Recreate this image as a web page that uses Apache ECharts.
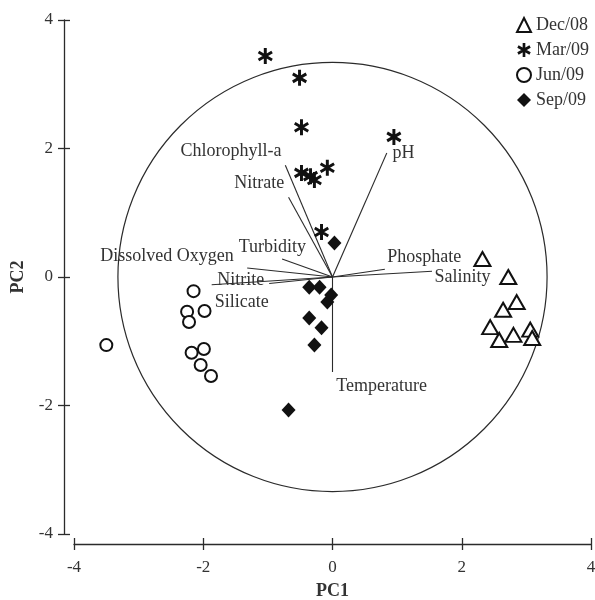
<!DOCTYPE html>
<html>
<head>
<meta charset="utf-8">
<script src="https://cdn.jsdelivr.net/npm/echarts@6/dist/echarts.min.js"></script>
<style>
html,body{margin:0;padding:0;background:#fff;}
#chart{width:595px;height:600px;}
</style>
</head>
<body>
<div id="chart"></div>
<script>
// ---- data ----
const seasons = ['Dec/08', 'Mar/09', 'Jun/09', 'Sep/09'];
const decPC1 = [2.32, 2.72, 2.85, 2.64, 2.44, 2.58, 2.80, 3.06, 3.09];
const decPC2 = [0.28, 0.00, -0.39, -0.51, -0.78, -0.98, -0.90, -0.82, -0.95];
const marPC1 = [-1.04, -0.51, -0.48, 0.95, -0.48, -0.34, -0.28, -0.08, -0.17];
const marPC2 = [3.44, 3.10, 2.33, 2.18, 1.62, 1.57, 1.51, 1.70, 0.70];
const junPC1 = [-2.15, -2.25, -1.98, -2.22, -2.18, -1.99, -2.04, -1.88, -3.50];
const junPC2 = [-0.22, -0.54, -0.53, -0.70, -1.18, -1.12, -1.37, -1.54, -1.06];
const sepPC1 = [-0.36, -0.20, -0.02, -0.08, -0.36, -0.17, -0.28, 0.03, -0.68];
const sepPC2 = [-0.16, -0.16, -0.28, -0.39, -0.64, -0.79, -1.06, 0.53, -2.07];

const variables = ['Chlorophyll-a', 'Nitrate', 'pH', 'Turbidity', 'Dissolved Oxygen', 'Nitrite', 'Silicate', 'Phosphate', 'Salinity', 'Temperature'];
const loadPC1 = [-0.73, -0.68, 0.84, -0.78, -1.32, -0.98, -1.87, 0.81, 1.54, 0.00];
const loadPC2 = [1.74, 1.24, 1.93, 0.28, 0.14, -0.10, -0.12, 0.12, 0.09, -1.48];

const axisTicks = [-4, -2, 0, 2, 4];
const circleRadius = 3.33;

// ---- label placement (layout, not data) ----
const labelAnchors = [
  [-0.78, 1.95, 'left'], [-0.74, 1.46, 'left'], [0.92, 1.93, 'right'],
  [-1.46, 0.47, 'right'], [-3.60, 0.33, 'right'], [-1.79, -0.05, 'right'],
  [-1.83, -0.40, 'right'], [0.84, 0.30, 'right'], [1.57, 0.00, 'right'],
  [0.05, -1.70, 'right']
];

const FONT = 'Liberation Serif';
const INK = '#2b2b2b';
const TXT = '#333';

const asterisk = 'path://M-0.19,-1L0.19,-1L0.19,1L-0.19,1Z' +
  'M0.771,-0.665L0.961,-0.335L-0.771,0.665L-0.961,0.335Z' +
  'M-0.961,-0.335L-0.771,-0.665L0.961,0.335L0.771,0.665Z';

function pts(xs, ys) { return xs.map((x, i) => [x, ys[i]]); }

const chart = echarts.init(document.getElementById('chart'), null, {renderer: 'canvas'});

// main axis: line + labels (no ticks); tick axis: crossing ticks only
function axisMain(isX) {
  return {
    type: 'value', min: axisTicks[0], max: axisTicks[axisTicks.length - 1], interval: 2,
    position: isX ? 'bottom' : 'left', offset: 10,
    axisLine: {show: true, onZero: false, lineStyle: {color: INK, width: 1.3}},
    axisTick: {show: false},
    axisLabel: {show: true, color: TXT, fontFamily: FONT, fontSize: 17, margin: isX ? 15 : 11},
    splitLine: {show: false},
    name: isX ? 'PC1' : 'PC2', nameLocation: 'middle', nameGap: isX ? 38 : 37,
    nameTextStyle: {fontFamily: FONT, fontSize: 18, fontWeight: 'bold', color: TXT}
  };
}
function axisTicksOnly(isX) {
  return {
    type: 'value', min: axisTicks[0], max: axisTicks[axisTicks.length - 1], interval: 2,
    position: isX ? 'bottom' : 'left', offset: 4,
    axisLine: {show: false, onZero: false},
    axisTick: {show: true, inside: false, length: 12, lineStyle: {color: INK, width: 1.3}},
    axisLabel: {show: false},
    splitLine: {show: false}
  };
}

const series = [];
variables.forEach((v, i) => {
  series.push({
    type: 'line', name: v, data: [[0, 0], [loadPC1[i], loadPC2[i]]],
    symbol: 'none', silent: true, z: 1,
    lineStyle: {color: INK, width: 1.1}
  });
});
series.push({
  type: 'scatter', name: 'labels', silent: true, z: 5,
  symbolSize: 1, itemStyle: {color: 'rgba(0,0,0,0)', opacity: 1},
  data: variables.map((v, i) => ({
    value: [labelAnchors[i][0], labelAnchors[i][1]],
    name: v,
    label: {show: true, position: labelAnchors[i][2], distance: 0, formatter: v,
      color: TXT, fontFamily: FONT, fontSize: 18}
  }))
});
series.push({
  type: 'scatter', name: seasons[0], data: pts(decPC1, decPC2), symbol: 'triangle', symbolSize: [16, 14], z: 4,
  itemStyle: {color: '#fff', borderColor: '#111', borderWidth: 2, opacity: 1}
});
series.push({
  type: 'scatter', name: seasons[1], data: pts(marPC1, marPC2), symbol: asterisk, symbolSize: [15, 16], z: 4,
  itemStyle: {color: '#111', opacity: 1}
});
series.push({
  type: 'scatter', name: seasons[2], data: pts(junPC1, junPC2), symbol: 'circle', symbolSize: 12, z: 4,
  itemStyle: {color: '#fff', borderColor: '#111', borderWidth: 2, opacity: 1}
});
series.push({
  type: 'scatter', name: seasons[3], data: pts(sepPC1, sepPC2), symbol: 'diamond', symbolSize: [14, 15], z: 4,
  itemStyle: {color: '#111', opacity: 1}
});

chart.setOption({
  animation: false,
  backgroundColor: '#fff',
  grid: {left: 74, right: 4, top: 20, bottom: 66, containLabel: false, outerBoundsMode: 'none'},
  xAxis: [axisMain(true), axisTicksOnly(true)],
  yAxis: [axisMain(false), axisTicksOnly(false)],
  legend: {
    data: seasons, orient: 'vertical', left: 511, top: 11,
    itemWidth: 14, itemHeight: 14, itemGap: 7,
    textStyle: {fontFamily: FONT, fontSize: 18, color: TXT}
  },
  series: series
});

const c = chart.convertToPixel({gridIndex: 0}, [0, 0]);
const e = chart.convertToPixel({gridIndex: 0}, [circleRadius, circleRadius]);
const r = ((e[0] - c[0]) + (c[1] - e[1])) / 2;
chart.setOption({
  graphic: [{
    type: 'circle', silent: true, z: 0,
    shape: {cx: c[0], cy: c[1], r: r},
    style: {fill: 'none', stroke: INK, lineWidth: 1.2}
  }]
});
</script>
</body>
</html>
